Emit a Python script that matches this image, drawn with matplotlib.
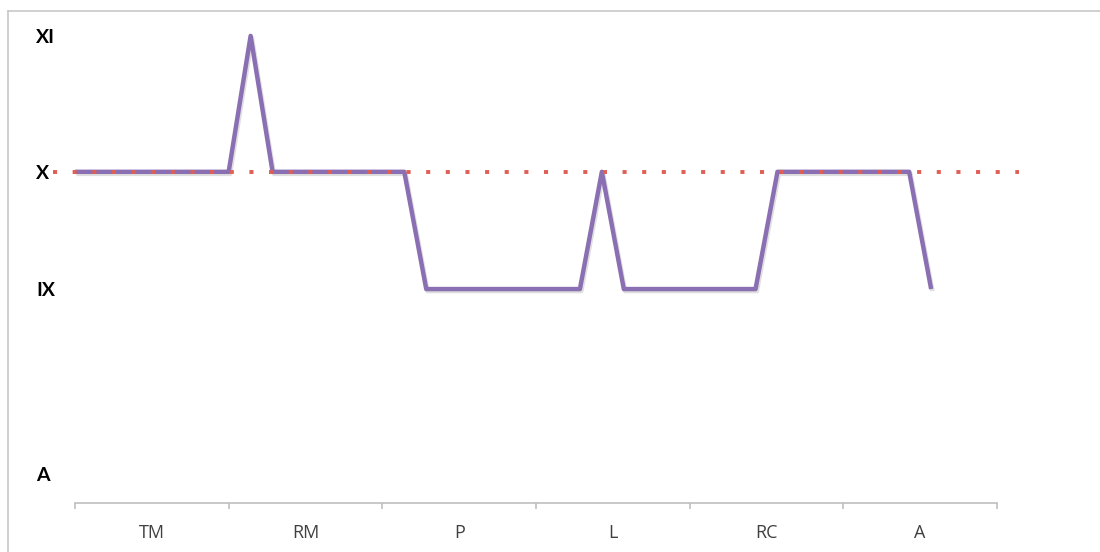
import matplotlib
matplotlib.use("Agg")
import matplotlib.pyplot as plt
import matplotlib.patheffects as pe
from matplotlib.lines import Line2D

# categories along the x axis, each one split into 7 steps
categories = ["TM", "RM", "P", "L", "RC", "A"]
steps_per_cat = 7

# level names and their height on the scale
level_names = ["A", "IX", "X", "XI"]
level_values = [0.62, 4.58, 7.09, 10.0]
level = dict(zip(level_names, level_values))

# series read step by step
series = (["X"] * 8 + ["XI"] + ["X"] * 7 + ["IX"] * 8 + ["X"] +
          ["IX"] * 7 + ["X"] * 7 + ["IX"])
reference = "X"

x = list(range(len(series)))
y = [level[s] for s in series]

fig = plt.figure(figsize=(11, 5.52), dpi=100)
ax = fig.add_axes([75 / 1100, 49 / 552, 922 / 1100, 483 / 552])

ax.plot(x, y, color="#8b6fb3", lw=3.2, solid_joinstyle="round", solid_capstyle="butt", zorder=3,
        path_effects=[pe.SimpleLineShadow(offset=(1, -1.5), shadow_color="gray", alpha=0.25),
                      pe.Normal()])
ax.plot([-1, 43], [level[reference]] * 2, color="#df5f55", lw=2.8,
        linestyle=(0, (1.05, 4.0)), clip_on=False, zorder=4)

n = len(categories) * steps_per_cat
ax.set_xlim(0, n)
ax.set_ylim(0, 10.34)

for s in ["top", "right", "left"]:
    ax.spines[s].set_visible(False)
ax.spines["bottom"].set_color("#bfbfbf")
ax.spines["bottom"].set_linewidth(1.2)

ax.set_xticks(range(0, n + 1, steps_per_cat))
ax.set_xticklabels([])
ax.tick_params(axis="x", which="major", length=4.5, width=1.2, color="#bfbfbf", direction="out")
ax.set_xticks([i * steps_per_cat + steps_per_cat / 2 for i in range(len(categories))], minor=True)
ax.set_xticklabels(categories, minor=True, fontsize=13, color="#404040", family="Open Sans")
ax.tick_params(axis="x", which="minor", length=0, pad=15)

ax.set_yticks(level_values)
ax.set_yticklabels(level_names, fontsize=14, fontweight="bold", family="Lato")
ax.tick_params(axis="y", length=0, pad=28)
for lbl in ax.get_yticklabels():
    lbl.set_ha("left")

# chart border (left and top edges visible)
fig.add_artist(Line2D([7.5 / 1100, 7.5 / 1100], [0, 541 / 552], transform=fig.transFigure,
                      color="#c8c8c8", lw=1.2))
fig.add_artist(Line2D([7.5 / 1100, 1], [541 / 552, 541 / 552], transform=fig.transFigure,
                      color="#c8c8c8", lw=1.2))

plt.savefig("out.png", dpi=100)
